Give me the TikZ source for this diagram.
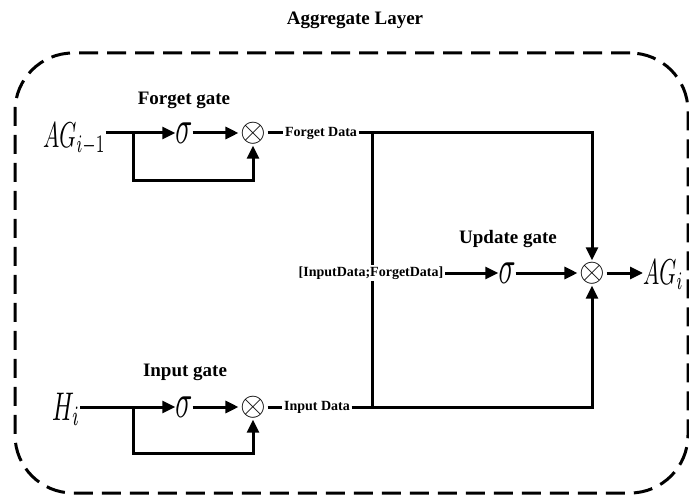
\documentclass[tikz,border=0pt]{standalone}
\usepackage{fontspec}
\setmainfont{Liberation Serif}
\usetikzlibrary{arrows.meta}

\newcommand{\bigvar}[3]{\scalebox{#1}[#2]{$#3$}}

\begin{document}
\begin{tikzpicture}[x=1pt, y=-1pt,
    gatelbl/.style={font=\fontsize{19}{21}\selectfont\bfseries, inner sep=0pt},
    datalbl/.style={font=\fontsize{14}{16}\selectfont\bfseries, inner sep=1.5pt},
    sig/.style={inner sep=0pt},
    mul/.style={inner sep=1.5pt},
    var/.style={anchor=base west, inner sep=0pt},
    wire/.style={line width=3pt},
    arr/.style={wire, -{Triangle[length=13pt,width=12pt]}},
    layerbox/.style={draw, line width=3pt, dash pattern=on 19pt off 9pt, rounded corners=58pt}
  ]
    \useasboundingbox (0,0) rectangle (689,495);
    \node[gatelbl] (title) at (355,20) {Aggregate Layer};
    \node[layerbox, minimum width=673pt, minimum height=440pt] (layer) at (351.5,273) {};
    \node[var] (agprev) at (43,147) {\bigvar{2.16}{3.6}{AG_{i-1}}};
    \node[sig] (sigF) at (184,133) {\bigvar{2.8}{4.8}{\sigma}};
    \node[mul] (mulF) at (253,133) {\bigvar{3.3}{3.3}{\otimes}};
    \node[gatelbl] (lblF) at (184,100) {Forget gate};
    \node[datalbl] (fdata) at (321,133) {Forget Data};
    \coordinate (brF) at (133,133);
    \coordinate (jF) at (372,133);
    \node[var] (hin) at (52,420) {\bigvar{2.4}{4}{H_i}};
    \node[sig] (sigI) at (184,407) {\bigvar{2.8}{4.8}{\sigma}};
    \node[mul] (mulI) at (253,407) {\bigvar{3.3}{3.3}{\otimes}};
    \node[gatelbl] (lblI) at (185,372) {Input gate};
    \node[datalbl] (idata) at (317,407) {Input Data};
    \coordinate (brI) at (133,407);
    \coordinate (jI) at (372,407);
    \node[datalbl] (cat) at (371,273) {[InputData;ForgetData]};
    \node[sig] (sigU) at (507,273) {\bigvar{2.8}{4.8}{\sigma}};
    \node[mul] (mulU) at (592,273) {\bigvar{3.3}{3.3}{\otimes}};
    \node[gatelbl] (lblU) at (508,239) {Update gate};
    \node[var] (agout) at (643,284) {\bigvar{2.16}{3.6}{AG_i}};
    \draw[arr] (agprev.east |- sigF) -- (sigF);
    \draw[arr] (sigF) -- (mulF);
    \draw[arr] (brF) -- ++(0,47) -| (mulF.south);
    \draw[wire] (mulF) -- (fdata);
    \draw[wire] (fdata) -- (jF);
    \draw[arr] (hin.east |- sigI) -- (sigI);
    \draw[arr] (sigI) -- (mulI);
    \draw[arr] (brI) -- ++(0,46) -| (mulI.south);
    \draw[wire] (mulI) -- (idata);
    \draw[wire] (idata) -- (jI);
    \draw[wire] (jF) -- (cat.north -| jF);
    \draw[wire] (cat.south -| jF) -- (jI);
    \draw[arr] (jF) -| (mulU.north);
    \draw[arr] (jI) -| (mulU.south);
    \draw[arr] (cat) -- (sigU);
    \draw[arr] (sigU) -- (mulU);
    \draw[arr] (mulU) -- (agout.west |- mulU);
\end{tikzpicture}
\end{document}
